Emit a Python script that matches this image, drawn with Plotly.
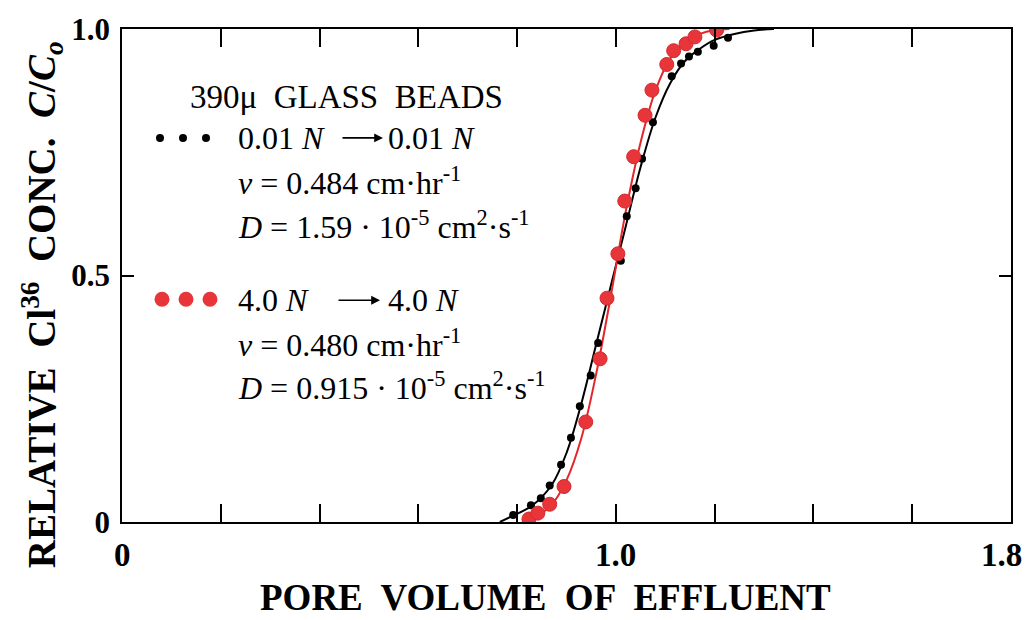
import plotly.graph_objects as go

# Breakthrough data, 390 micron glass beads
# 0.01 N -> 0.01 N (measured points)
pv_low = [0.792, 0.828, 0.848, 0.866, 0.889, 0.909, 0.927, 0.949, 0.964, 0.984,
          1.010, 1.022, 1.040, 1.053, 1.075, 1.113, 1.132, 1.148, 1.166, 1.198, 1.227]
c_low = [0.014, 0.034, 0.048, 0.074, 0.116, 0.171, 0.235, 0.297, 0.363, 0.454,
         0.530, 0.620, 0.677, 0.737, 0.811, 0.904, 0.930, 0.944, 0.954, 0.966, 0.982]

# 4.0 N -> 4.0 N (measured points)
pv_high = [0.824, 0.842, 0.866, 0.895, 0.939, 0.968, 0.982, 1.004, 1.018, 1.036,
           1.059, 1.073, 1.103, 1.117, 1.142, 1.160, 1.204]
c_high = [0.006, 0.018, 0.036, 0.072, 0.203, 0.331, 0.454, 0.544, 0.651, 0.741,
          0.825, 0.876, 0.928, 0.956, 0.970, 0.984, 0.998]

# Fitted dispersion curves
fit_low_x = [0.765, 0.79, 0.83, 0.87, 0.90, 0.93, 0.96, 0.99, 1.02, 1.05,
             1.08, 1.11, 1.14, 1.17, 1.20, 1.24, 1.28, 1.32]
fit_low_y = [0.0, 0.012, 0.033, 0.075, 0.14, 0.24, 0.36, 0.48, 0.60, 0.72,
             0.82, 0.89, 0.935, 0.96, 0.978, 0.99, 0.997, 1.0]
fit_high_x = [0.81, 0.84, 0.87, 0.90, 0.93, 0.96, 0.99, 1.02, 1.05, 1.08,
              1.11, 1.14, 1.17, 1.20, 1.23]
fit_high_y = [0.0, 0.012, 0.035, 0.085, 0.17, 0.30, 0.46, 0.63, 0.77, 0.875,
              0.94, 0.972, 0.99, 0.998, 1.0]

x_ticks = [0, 0.2, 0.4, 0.6, 0.8, 1.0, 1.2, 1.4, 1.6, 1.8]
x_ticktext = ["0", "", "", "", "", "1.0", "", "", "", "1.8"]
y_ticks = [0, 0.5, 1.0]
y_ticktext = ["0", "0.5", "1.0"]

RED = "#e8353a"
RED_LINE = "#e3262b"
SERIF = "Liberation Serif, DejaVu Serif, serif"

fig = go.Figure()
fig.add_trace(go.Scatter(x=fit_low_x, y=fit_low_y, mode="lines",
                         line=dict(color="black", width=2, shape="spline"),
                         hoverinfo="skip"))
fig.add_trace(go.Scatter(x=fit_high_x, y=fit_high_y, mode="lines",
                         line=dict(color=RED_LINE, width=2, shape="spline"),
                         hoverinfo="skip"))
fig.add_trace(go.Scatter(x=pv_low, y=c_low, mode="markers",
                         marker=dict(color="black", size=8)))
fig.add_trace(go.Scatter(x=pv_high, y=c_high, mode="markers",
                         marker=dict(color=RED, size=14,
                                     line=dict(color="#d42a2e", width=1))))

W, H = 1028, 620
L, R, T, B = 122, 17, 24, 98
PW, PH = W - L - R, H - T - B


def px(x):
    return (x - L) / PW


def py(y):
    return (H - B - y) / PH


ann = []


def label(x, y, txt, anchor="left", size=32):
    ann.append(dict(x=px(x), y=py(y), xref="paper", yref="paper", text=txt,
                    showarrow=False, xanchor=anchor, yanchor="middle",
                    font=dict(family=SERIF, size=size, color="black")))


label(188, 93, "390\u03bc  GLASS  BEADS", size=33)
label(236, 134, "0.01 <i>N</i>")
label(386, 134, "0.01 <i>N</i>")
label(236, 178, "<i>v</i> = 0.484 cm\u00b7hr<sup>-1</sup>")
label(236, 222, "<i>D</i> = 1.59 \u00b7 10<sup>-5</sup> cm<sup>2</sup>\u00b7s<sup>-1</sup>")
label(236, 298, "4.0 <i>N</i>")
label(386, 298, "4.0 <i>N</i>")
label(236, 341, "<i>v</i> = 0.480 cm\u00b7hr<sup>-1</sup>")
label(236, 385, "<i>D</i> = 0.915 \u00b7 10<sup>-5</sup> cm<sup>2</sup>\u00b7s<sup>-1</sup>")

# arrows between the concentrations
for (x0, x1, y) in [(341, 383, 134), (337, 380, 298)]:
    ann.append(dict(x=px(x1), y=py(y), xref="paper", yref="paper",
                    ax=-(x1 - x0), ay=0,
                    text="", showarrow=True, arrowhead=2, arrowsize=1.1,
                    arrowwidth=1.6, arrowcolor="black"))

# axis titles
ann.append(dict(x=px(545), y=py(598), xref="paper", yref="paper",
                text="<b>PORE  VOLUME  OF  EFFLUENT</b>", showarrow=False,
                xanchor="center", yanchor="middle",
                font=dict(family=SERIF, size=37, color="black")))
ann.append(dict(x=px(42), y=py(303), xref="paper", yref="paper",
                text="<b>RELATIVE  Cl<sup>36</sup>  CONC.  <i>C</i>/<i>C<sub>o</sub></i></b>",
                showarrow=False, textangle=-90, xanchor="center", yanchor="middle",
                font=dict(family=SERIF, size=39, color="black")))

# x tick labels (the last one sits flush with the right edge)
for xv, txt in zip(x_ticks, x_ticktext):
    if txt:
        last = xv == x_ticks[-1]
        ann.append(dict(x=xv, y=py(555), xref="x", yref="paper",
                        text="<b>" + txt + "</b>",
                        showarrow=False, xanchor="right" if last else "center",
                        xshift=13 if last else 0, yanchor="middle",
                        font=dict(family=SERIF, size=33, color="black")))

shapes = []
for cx in [160, 183, 206]:
    shapes.append(dict(type="circle", xref="paper", yref="paper",
                       xsizemode="pixel", ysizemode="pixel",
                       xanchor=px(cx), yanchor=py(134),
                       x0=-4, x1=4, y0=-4, y1=4,
                       fillcolor="black", line=dict(width=0)))
for cx in [162, 186, 210]:
    shapes.append(dict(type="circle", xref="paper", yref="paper",
                       xsizemode="pixel", ysizemode="pixel",
                       xanchor=px(cx), yanchor=py(297),
                       x0=-7.5, x1=7.5, y0=-7.5, y1=7.5,
                       fillcolor=RED, line=dict(width=0)))

fig.update_layout(
    width=W, height=H,
    margin=dict(l=L, r=R, t=T, b=B),
    plot_bgcolor="white", paper_bgcolor="white",
    showlegend=False,
    annotations=ann,
    shapes=shapes,
    xaxis=dict(range=[0, 1.8], tickvals=x_ticks, showticklabels=False,
               ticks="inside", ticklen=18, tickwidth=1.5, tickcolor="black",
               showline=True, linecolor="black", linewidth=1.8, mirror="ticks",
               showgrid=False, zeroline=False, fixedrange=True),
    yaxis=dict(range=[0, 1.0], tickvals=y_ticks,
               ticktext=["<b>" + t + "</b>" for t in y_ticktext],
               ticks="inside", ticklen=12, tickwidth=1.5, tickcolor="black",
               ticklabelstandoff=4,
               showline=True, linecolor="black", linewidth=1.8, mirror="ticks",
               showgrid=False, zeroline=False,
               tickfont=dict(family=SERIF, size=31, color="black"),
               fixedrange=True),
)

fig.write_html("out.html")
